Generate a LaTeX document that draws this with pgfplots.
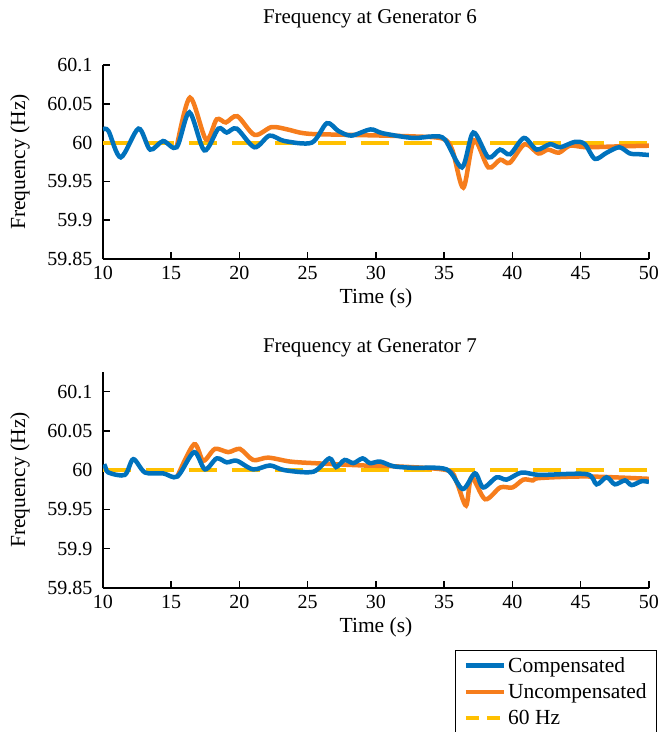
\documentclass[border=0pt]{standalone}
\usepackage{fontspec}
\setmainfont{Liberation Serif}
\usepackage{pgfplots}
\pgfplotsset{compat=1.18}

\definecolor{cblue}{RGB}{0,114,189}
\definecolor{corange}{RGB}{246,125,28}
\definecolor{cyellow}{RGB}{255,192,0}

\pgfplotsset{
  freqax/.style={
    scale only axis, width=546pt,
    xmin=10, xmax=50, xtick={10,15,...,50},
    ytick={59.85,59.9,59.95,60,60.05,60.1},
    yticklabels={59.85,59.9,59.95,60,60.05,60.1},
    axis lines=left, axis line style={-, line width=2pt},
    tick align=inside, major tick length=7pt,
    tick style={line width=1.5pt, black},
    /pgf/number format/assume math mode=true,
    ticklabel style={font=\fontsize{20}{24}\selectfont},
    yticklabel style={xshift=-7pt},
    xticklabel style={yshift=-4pt},
    xlabel={Time (s)}, ylabel={Frequency (Hz)},
    every axis x label/.style={at={(axis description cs:0.5,0)}, anchor=center,
      yshift=-39pt, font=\fontsize{21.5}{24}\selectfont},
    every axis y label/.style={at={(axis description cs:-0.152,0.5)}, anchor=center,
      rotate=90, font=\fontsize{21.5}{24}\selectfont},
    legend image code/.code={\draw[#1] (0pt,0pt) -- (38pt,0pt);},
  },
}

\begin{document}
\begin{tikzpicture}

% Generator 6
\begin{axis}[freqax, at={(0,0)}, anchor=south west, height=194pt,
  ymin=59.85, ymax=60.1,
  title={Frequency at Generator 6},
  every axis title/.style={at={(axis description cs:0.5,1)}, anchor=center,
    yshift=46pt, xshift=-6pt, font=\fontsize{21}{24}\selectfont},
]
\addplot[cyellow, line width=4pt, dash pattern=on 28pt off 15pt] coordinates {(10,60) (50,60)};
\addplot[corange, line width=4.5pt, smooth] coordinates {
(15.4,59.994)(16.37,60.058)(17.55,60.004)(18.33,60.030)(19.0,60.026)(19.84,60.034)
(21.1,60.010)(22.35,60.020)(23.5,60.017)(24.4,60.013)(25.4,60.011)(28,60.010)
(32.7,60.008)(34.9,60.005)(35.6,59.99)(36.4,59.942)(37.18,60.003)(38.23,59.968)
(39.1,59.978)(39.8,59.974)(40.9,59.998)(41.9,59.986)(42.6,59.991)(43.4,59.987)
(44.2,59.996)(45.4,59.994)(47.5,59.995)(50,59.996)};
\addplot[cblue, line width=4.5pt, smooth] coordinates {
(10,60.017)(10.4,60.015)(11.3,59.981)(12.6,60.018)(13.45,59.991)(14.4,60.002)
(15.4,59.994)(16.33,60.039)(17.42,59.990)(18.45,60.018)(19.06,60.013)(19.8,60.018)
(21.1,59.994)(22.2,60.009)(23.3,60.002)(25.3,60.0)(26.4,60.025)(27.24,60.015)
(28.2,60.009)(29.6,60.017)(30.5,60.012)(32.7,60.006)(34.2,60.008)(35.05,60.004)
(36.3,59.968)(37.13,60.013)(38.23,59.981)(39.08,59.991)(39.82,59.985)(40.84,60.006)
(41.77,59.991)(42.75,59.998)(43.49,59.994)(44.58,60.001)(45.3,59.998)(46.04,59.979)
(46.9,59.987)(47.83,59.994)(48.6,59.986)(49.3,59.985)(50,59.984)};
\end{axis}

% Generator 7
\begin{axis}[freqax, at={(0,-329pt)}, anchor=south west, height=216pt,
  ymin=59.85, ymax=60.125,
  title={Frequency at Generator 7},
  every axis title/.style={at={(axis description cs:0.5,1)}, anchor=center,
    yshift=24pt, xshift=-6pt, font=\fontsize{21}{24}\selectfont},
  legend style={at={(0.645,-0.287)}, anchor=north west, draw=black, line width=1pt,
    font=\fontsize{21.5}{23}\selectfont, row sep=6pt, inner xsep=8pt, inner ysep=5pt},
  legend cell align=left,
]
\addlegendimage{cblue, line width=4.5pt}
\addlegendentry{Compensated}
\addlegendimage{corange, line width=4.5pt}
\addlegendentry{Uncompensated}
\addlegendimage{cyellow, line width=4pt, dash pattern=on 13pt off 8pt}
\addlegendentry{60 Hz}
\addplot[cyellow, line width=4pt, dash pattern=on 28pt off 15pt, forget plot] coordinates {(10,60) (50,60)};
\addplot[corange, line width=4.5pt, smooth, forget plot] coordinates {
(15.45,59.992)(16.67,60.033)(17.35,60.012)(18.2,60.027)(19.18,60.023)(20.04,60.027)
(21.0,60.013)(22.1,60.016)(23.7,60.011)(25.4,60.009)(29.07,60.006)(31.3,60.005)
(35.2,60.0)(35.9,59.985)(36.6,59.955)(37.0,59.991)(38.0,59.963)(39.1,59.978)
(40.0,59.978)(40.8,59.988)(41.5,59.987)(42.0,59.990)(45.4,59.992)(50,59.989)};
\addplot[cblue, line width=4.5pt, smooth, forget plot] coordinates {
(10,60.003)(10.15,60.005)(10.4,59.997)(11.6,59.994)(12.22,60.014)(13.08,59.997)
(14.4,59.996)(15.45,59.992)(16.67,60.023)(17.47,60.001)(18.33,60.015)(19.06,60.010)
(19.8,60.012)(21.0,60.001)(22.23,60.006)(23.3,60.0)(25.4,59.998)(26.58,60.015)
(27.07,60.004)(27.7,60.013)(28.34,60.009)(29.02,60.015)(29.56,60.009)(30.3,60.011)
(31.27,60.005)(32.7,60.003)(35.17,60.001)(36.35,59.976)(37.25,59.996)(37.86,59.978)
(38.84,59.991)(39.57,59.988)(40.67,59.997)(42.0,59.994)(45.43,59.995)(46.16,59.982)
(46.9,59.991)(47.5,59.982)(48.24,59.987)(48.73,59.981)(49.46,59.986)(50,59.985)};
\end{axis}

\pgfresetboundingbox
\path[use as bounding box] (-103pt,259pt) rectangle (558pt,-473pt);
\end{tikzpicture}
\end{document}
